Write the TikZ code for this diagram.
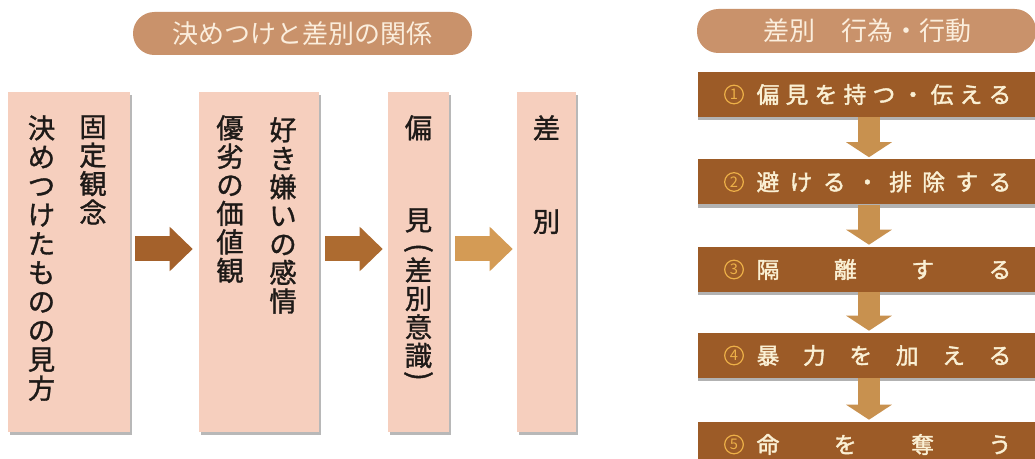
\documentclass[tikz,border=0pt]{standalone}
\usepackage{fontspec}
\usetikzlibrary{calc,arrows.meta,shadows}
\newfontfamily\jp{Noto Sans CJK JP}
\newfontfamily\jpb[FakeBold=1.2]{Noto Sans CJK JP}
\newfontfamily\jpbb[FakeBold=1.8]{Noto Sans CJK JP}
\definecolor{pinkbox}{HTML}{F6CFBE}
\definecolor{pillc}{HTML}{C9926B}
\definecolor{brownbox}{HTML}{9C5B27}
\definecolor{darrowc}{HTML}{C8914F}
\definecolor{arrowA}{HTML}{A4612B}
\definecolor{arrowB}{HTML}{AD6B30}
\definecolor{arrowC}{HTML}{D49B55}
\definecolor{creamtxt}{HTML}{FBEEDD}
\definecolor{boxtxt}{HTML}{FAF0D4}
\definecolor{numc}{HTML}{EDB048}
\definecolor{inktxt}{HTML}{1E1A18}
\newcommand\spreadtxt[1]{\makebox[191pt]{#1}}
\begin{document}
\begin{tikzpicture}[x=0.75pt,y=-0.75pt,
  pbox/.style={rectangle, fill=pinkbox, inner sep=0pt, minimum height=255pt,
    drop shadow={shadow xshift=1.6pt, shadow yshift=-2pt, fill=black, opacity=0.28}},
  bbox/.style={rectangle, fill=brownbox, inner sep=0pt, minimum width=256.5pt, minimum height=33.75pt,
    drop shadow={shadow xshift=0pt, shadow yshift=-2.6pt, fill=black, opacity=0.3}},
  pill/.style={rectangle, rounded corners=16pt, fill=pillc, inner sep=0pt, minimum width=254.25pt,
    text=creamtxt, font=\jp\fontsize{19.5}{19.5}\selectfont},
  vcol/.style={anchor=north, inner sep=0pt, align=center, text=inktxt,
    font=\jpb\fontsize{20.5}{21.4}\selectfont},
  vcolw/.style={anchor=north, inner sep=0pt, align=center, text=inktxt,
    font=\jpb\fontsize{20.5}{21.7}\selectfont},
  paren/.style={inner sep=0pt, text=inktxt, font=\jpbb\fontsize{21}{21}\selectfont},
  btxt/.style={inner sep=0pt, text=boxtxt, font=\jpbb\fontsize{17}{17}\selectfont},
  numcirc/.style={circle, draw=numc, line width=0.9pt, minimum size=14pt, inner sep=0pt,
    text=numc, font=\jp\fontsize{11}{11}\selectfont},
  bigarrow/.style={line width=18.75pt, -{Triangle[length=17.25pt, width=32.25pt]}},
  downarrow/.style={draw=darrowc, line width=16.5pt, -{Triangle[length=11.25pt, width=33.75pt]}}
]
\useasboundingbox (0,0) rectangle (1035,459);
\clip (0,0) rectangle (1035,459);

% titles
\node[pill, minimum height=32.25pt] (t1) at (302.5,33.5) {決めつけと差別の関係};
\node[pill, minimum height=33pt] (t2) at (866.5,31) {\hspace{2.2pt}差別　行為・行動};

% left pink boxes
\node[pbox, minimum width=91.5pt] (b1) at (69,262) {};
\node[pbox, minimum width=90pt] (b2) at (259,262) {};
\node[pbox, minimum width=45.75pt] (b3) at (418.5,262) {};
\node[pbox, minimum width=44.25pt] (b4) at (546.5,262) {};

% vertical texts
\node[vcol] (b1r) at (93,115) {固\\定\\観\\念};
\node[vcolw] (b1l) at (41.5,115) {決\\め\\つ\\け\\た\\も\\の\\の\\見\\方};
\node[vcol] (b2r) at (283,117) {好\\き\\嫌\\い\\の\\感\\情};
\node[vcol] (b2l) at (230,115) {優\\劣\\の\\価\\値\\観};
\node[vcol] (b3a) at (418.5,115) {偏};
\node[vcol] (b3b) at (418.5,208) {見};
\node[paren] (b3p1) at (418.5,248) {\rotatebox{-90}{(}};
\node[vcol] (b3c) at (418.5,257) {差\\別\\意\\識};
\node[paren] (b3p2) at (418.5,376) {\rotatebox{-90}{)}};
\node[vcol] (b4a) at (546.5,115) {差};
\node[vcol] (b4b) at (546.5,209) {別};

% horizontal arrows
\draw[bigarrow, draw=arrowA] ($(b1.east)+(5,-13)$) -- ($(b2.west)+(-6,-13)$);
\draw[bigarrow, draw=arrowB] ($(b2.east)+(6,-13)$) -- ($(b3.west)+(-5,-13)$);
\draw[bigarrow, draw=arrowC] ($(b3.east)+(6,-13)$) -- ($(b4.west)+(-4,-13)$);

% right brown boxes
\node[bbox] (r1) at (869,94.5) {};
\node[bbox] (r2) at (869,182) {};
\node[bbox] (r3) at (869,269.5) {};
\node[bbox] (r4) at (869,355.5) {};
\node[bbox] (r5) at (869,444.5) {};

% down arrows
\draw[downarrow] (r1.south) -- ($(r2.north)+(0,-2)$);
\draw[downarrow] (r2.south) -- ($(r3.north)+(0,-2)$);
\draw[downarrow] (r3.south) -- ($(r4.north)+(0,-2)$);
\draw[downarrow] (r4.south) -- ($(r5.north)+(0,-2)$);

% right texts
\node[numcirc] (n1) at ($(r1)+(-135,0)$) {1};
\node[numcirc] (n2) at ($(r2)+(-135,0)$) {2};
\node[numcirc] (n3) at ($(r3)+(-135,0)$) {3};
\node[numcirc] (n4) at ($(r4)+(-135,0)$) {4};
\node[numcirc] (n5) at ($(r5)+(-135,0)$) {5};
\node[btxt] (x1) at ($(r1)+(15,0)$) {\spreadtxt{偏\hfill 見\hfill を\hfill 持\hfill つ\hfill ・\hfill 伝\hfill え\hfill る}};
\node[btxt] (x2) at ($(r2)+(15,0)$) {\spreadtxt{避\hfill け\hfill る\hfill ・\hfill 排\hfill 除\hfill す\hfill る}};
\node[btxt] (x3) at ($(r3)+(15,0)$) {\spreadtxt{隔\hfill 離\hfill す\hfill る}};
\node[btxt] (x4) at ($(r4)+(15,0)$) {\spreadtxt{暴\hfill 力\hfill を\hfill 加\hfill え\hfill る}};
\node[btxt] (x5) at ($(r5)+(15,0)$) {\spreadtxt{命\hfill を\hfill 奪\hfill う}};
\end{tikzpicture}
\end{document}
